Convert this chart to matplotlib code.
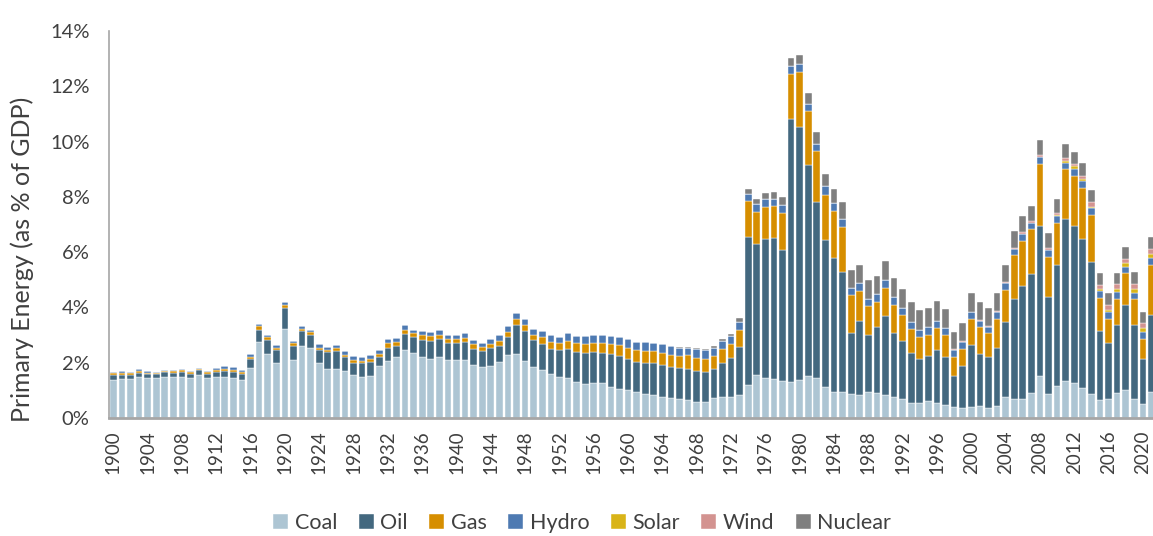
import numpy as np
import matplotlib
matplotlib.use("Agg")
import matplotlib.pyplot as plt
from matplotlib.ticker import PercentFormatter

plt.rcParams["font.family"] = ["Lato", "DejaVu Sans"]

years = list(range(1900, 2022))

# share of GDP (%) by source
coal = [
    1.37, 1.42, 1.42, 1.48, 1.43, 1.45, 1.49, 1.47, 1.49, 1.43,
    1.55, 1.45, 1.49, 1.47, 1.45, 1.39, 1.80, 2.76, 2.30, 1.99,
    3.23, 2.11, 2.61, 2.53, 1.98, 1.78, 1.78, 1.69, 1.54, 1.47,
    1.52, 1.88, 2.07, 2.20, 2.46, 2.34, 2.19, 2.13, 2.19, 2.11,
    2.11, 2.10, 1.90, 1.84, 1.88, 2.02, 2.27, 2.31, 2.06, 1.86,
    1.73, 1.58, 1.49, 1.43, 1.29, 1.22, 1.25, 1.25, 1.12, 1.05,
    1.01, 0.94, 0.88, 0.82, 0.77, 0.71, 0.69, 0.64, 0.58, 0.58,
    0.71, 0.75, 0.77, 0.82, 1.19, 1.55, 1.46, 1.41, 1.34, 1.29,
    1.37, 1.52, 1.46, 1.13, 0.95, 0.95, 0.87, 0.83, 0.93, 0.90,
    0.83, 0.76, 0.67, 0.55, 0.54, 0.60, 0.55, 0.48, 0.41, 0.36,
    0.40, 0.42, 0.36, 0.44, 0.77, 0.69, 0.69, 0.90, 1.53, 0.87,
    1.14, 1.35, 1.27, 1.07, 0.88, 0.66, 0.69, 0.92, 1.01, 0.70,
    0.52, 0.94,
]
oil = [
    0.18, 0.15, 0.14, 0.15, 0.16, 0.13, 0.16, 0.17, 0.16, 0.17,
    0.17, 0.15, 0.17, 0.23, 0.22, 0.20, 0.32, 0.44, 0.52, 0.48,
    0.75, 0.51, 0.52, 0.49, 0.48, 0.59, 0.63, 0.50, 0.46, 0.51,
    0.49, 0.31, 0.48, 0.41, 0.59, 0.58, 0.64, 0.67, 0.67, 0.60,
    0.60, 0.66, 0.61, 0.60, 0.66, 0.59, 0.67, 1.06, 1.08, 0.96,
    0.96, 0.93, 0.96, 1.08, 1.11, 1.13, 1.15, 1.10, 1.19, 1.19,
    1.12, 1.08, 1.11, 1.17, 1.15, 1.13, 1.11, 1.13, 1.12, 1.09,
    1.07, 1.25, 1.39, 1.76, 5.36, 4.73, 5.02, 5.10, 4.72, 9.51,
    9.16, 7.64, 6.36, 5.32, 4.83, 4.33, 2.22, 2.69, 2.06, 2.38,
    2.86, 2.30, 2.10, 1.79, 1.60, 1.64, 1.92, 1.72, 1.10, 1.51,
    2.24, 1.88, 1.84, 2.08, 2.69, 3.62, 4.07, 4.32, 5.43, 3.49,
    4.38, 5.84, 5.68, 5.39, 4.75, 2.48, 2.03, 2.43, 3.06, 2.66,
    1.62, 2.78,
]
gas = [
    0.06, 0.06, 0.05, 0.06, 0.05, 0.04, 0.04, 0.05, 0.07, 0.05,
    0.04, 0.06, 0.07, 0.08, 0.08, 0.06, 0.10, 0.13, 0.10, 0.08,
    0.12, 0.09, 0.10, 0.09, 0.09, 0.09, 0.11, 0.10, 0.11, 0.10,
    0.12, 0.11, 0.15, 0.14, 0.15, 0.14, 0.16, 0.15, 0.15, 0.15,
    0.15, 0.14, 0.15, 0.14, 0.12, 0.16, 0.16, 0.21, 0.21, 0.19,
    0.23, 0.24, 0.25, 0.29, 0.30, 0.34, 0.33, 0.35, 0.36, 0.39,
    0.41, 0.44, 0.44, 0.42, 0.43, 0.44, 0.45, 0.50, 0.48, 0.47,
    0.45, 0.51, 0.51, 0.62, 1.29, 1.17, 1.16, 1.15, 1.36, 1.66,
    2.00, 1.94, 1.83, 1.63, 1.70, 1.64, 1.36, 1.08, 1.05, 0.92,
    1.03, 1.04, 0.94, 0.88, 0.80, 0.77, 0.77, 0.80, 0.69, 0.64,
    0.95, 0.99, 0.87, 1.07, 1.17, 1.58, 1.66, 1.61, 2.22, 1.46,
    1.53, 1.81, 1.82, 1.87, 1.71, 1.20, 0.86, 0.96, 1.17, 0.94,
    0.73, 1.83,
]
hydro = [
    0.05, 0.06, 0.04, 0.07, 0.05, 0.04, 0.04, 0.04, 0.05, 0.05,
    0.05, 0.05, 0.07, 0.09, 0.08, 0.07, 0.08, 0.08, 0.09, 0.09,
    0.09, 0.08, 0.11, 0.09, 0.11, 0.11, 0.12, 0.12, 0.12, 0.12,
    0.15, 0.15, 0.16, 0.15, 0.16, 0.14, 0.14, 0.16, 0.17, 0.14,
    0.15, 0.17, 0.15, 0.15, 0.18, 0.22, 0.23, 0.23, 0.23, 0.22,
    0.24, 0.25, 0.24, 0.26, 0.28, 0.26, 0.29, 0.30, 0.29, 0.29,
    0.30, 0.30, 0.33, 0.32, 0.31, 0.31, 0.30, 0.27, 0.30, 0.32,
    0.31, 0.26, 0.29, 0.28, 0.28, 0.28, 0.29, 0.28, 0.28, 0.27,
    0.29, 0.27, 0.28, 0.31, 0.28, 0.27, 0.27, 0.28, 0.26, 0.27,
    0.26, 0.27, 0.27, 0.27, 0.26, 0.27, 0.28, 0.25, 0.26, 0.24,
    0.23, 0.23, 0.23, 0.25, 0.25, 0.21, 0.25, 0.24, 0.25, 0.25,
    0.24, 0.24, 0.25, 0.25, 0.24, 0.24, 0.24, 0.24, 0.24, 0.24,
    0.25, 0.25,
]
solar = [0.0] * 110 + [
    0.04, 0.07, 0.08, 0.06, 0.07, 0.08, 0.10, 0.11, 0.12, 0.13,
    0.13, 0.12,
]
wind = [0.0] * 98 + [
    0.02, 0.02, 0.03, 0.03, 0.03, 0.04, 0.04, 0.06, 0.06, 0.06,
    0.09, 0.09, 0.08, 0.09, 0.08, 0.12, 0.15, 0.14, 0.16, 0.17,
    0.14, 0.17, 0.18, 0.21,
]
nuclear = [0.0] * 65 + [
    0.01, 0.02, 0.04, 0.04, 0.04, 0.05, 0.07, 0.08, 0.12, 0.15,
    0.21, 0.21, 0.25, 0.30, 0.31, 0.32, 0.39, 0.41, 0.44, 0.52,
    0.61, 0.65, 0.65, 0.70, 0.67, 0.69, 0.71, 0.68, 0.69, 0.70,
    0.70, 0.70, 0.68, 0.64, 0.66, 0.67, 0.65, 0.65, 0.64, 0.62,
    0.61, 0.57, 0.54, 0.54, 0.55, 0.53, 0.50, 0.46, 0.46, 0.45,
    0.44, 0.44, 0.41, 0.43, 0.44, 0.42, 0.42,
]

series = [
    ("Coal", coal, "#adc5d3"),
    ("Oil", oil, "#43687f"),
    ("Gas", gas, "#d68e00"),
    ("Hydro", hydro, "#4e7ab2"),
    ("Solar", solar, "#d9b418"),
    ("Wind", wind, "#d39390"),
    ("Nuclear", nuclear, "#7f7f7f"),
]

fig = plt.figure(figsize=(11.53, 5.36), dpi=100)
ax = fig.add_axes([109 / 1153, 118 / 536, 1 - 109 / 1153, 387 / 536])

x = np.arange(len(years))
bottom = np.zeros(len(years))
for name, vals, color in series:
    vals = np.array(vals)
    ax.bar(x, vals, width=0.78, bottom=bottom, color=color, label=name,
           edgecolor="white", linewidth=0.3)
    bottom += vals

ax.set_xlim(-0.5, 121.18)
ax.set_ylim(0, 14)
ax.set_yticks(range(0, 15, 2))
ax.yaxis.set_major_formatter(PercentFormatter(decimals=0))
ax.set_xticks(x[::4])
ax.set_xticklabels([str(y) for y in years[::4]], rotation=90)
ax.tick_params(axis="both", length=0, colors="#404040")
ax.tick_params(axis="y", labelsize=14.5, pad=14)
ax.tick_params(axis="x", labelsize=13.5, pad=9)

for side in ["top", "right"]:
    ax.spines[side].set_visible(False)
ax.spines["left"].set_color("#a6a6a6")
ax.spines["left"].set_linewidth(1.2)
ax.spines["bottom"].set_color("#a6a6a6")
ax.spines["bottom"].set_linewidth(2)

ax.set_ylabel("Primary Energy (as % of GDP)", fontsize=18, color="#404040")
ax.yaxis.set_label_coords(-0.072, 0.41)

fig.legend(loc="center", bbox_to_anchor=(0.505, 0.024), ncol=7, frameon=False,
           fontsize=15.5, handlelength=0.7, handleheight=0.7, handletextpad=0.3,
           columnspacing=1.0, labelcolor="#404040")

fig.savefig("out.png", dpi=100)
